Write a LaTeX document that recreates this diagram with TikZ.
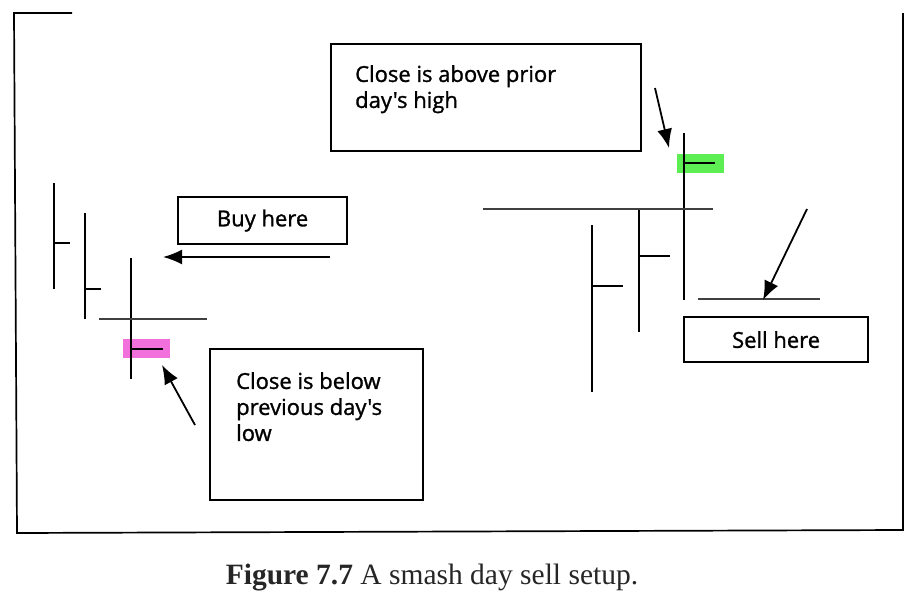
\documentclass[tikz,border=0pt]{standalone}
\usepackage{fontspec}
\newfontfamily\boxfont[FakeBold=1.2]{Open Sans}
\newfontfamily\capfont{Liberation Serif}
\usetikzlibrary{positioning, arrows.meta, calc}
\definecolor{closegreen}{RGB}{92,238,82}
\definecolor{closepink}{RGB}{242,112,220}

\begin{document}
\begin{tikzpicture}[x=1pt, y=-1pt,
	bar/.style={line width=2.3pt},
	level/.style={line width=1.4pt, black!75},
	callout/.style={draw, line width=2.2pt, anchor=north west, inner sep=0pt,
		font=\boxfont\fontsize{22}{26}\selectfont},
	note/.style={font=\boxfont\fontsize{22}{26}\selectfont, align=left, inner sep=0pt},
	pointer/.style={line width=1.8pt, -{Latex[length=19pt, width=15pt]}}]
	\useasboundingbox (0, 0) rectangle (921, 605);
	% frame
	\draw[line width=1.7pt] (72, 13) -- (14, 13) -- (17, 533) -- (903, 530) -- (903, 13);
	% highlighted closes
	\fill[closepink] (123, 339) rectangle (170, 358);
	\fill[closegreen] (677, 154) rectangle (724, 173);
	% left bars
	\draw[bar] (54, 183) -- (54, 289) (54, 243) -- (70, 243);
	\draw[bar] (85, 213) -- (85, 319) (85, 289) -- (101, 289);
	\draw[bar] (131, 258) -- (131, 379) (131, 349) -- (163, 349);
	\draw[level] (99, 319) -- (207, 319);
	% right bars
	\draw[bar] (592, 225) -- (592, 392) (592, 286) -- (623, 286);
	\draw[bar] (639, 210) -- (639, 332) (639, 256) -- (670, 256);
	\draw[bar] (684, 133) -- (684, 300) (684, 163) -- (715, 163);
	\draw[level] (483, 209) -- (713, 209);
	\draw[level] (698, 299) -- (820, 299);
	% boxes
	\node[callout, minimum width=310, minimum height=107] (highbox) at (330, 43) {};
	\node[note, below right=22pt and 25pt of highbox.north west, anchor=north west] (hightext)
		{Close is above prior\\day's high};
	\node[callout, minimum width=169, minimum height=47] (buy) at (177, 196) {Buy here};
	\node[callout, minimum width=213, minimum height=151] (lowbox) at (209, 348) {};
	\node[note, below right=24pt and 27pt of lowbox.north west, anchor=north west] (lowtext)
		{Close is below\\previous day's\\low};
	\node[callout, minimum width=184, minimum height=45] (sell) at (683, 316) {Sell here};
	% arrows
	\coordinate (buytail) at (330, 257);
	\coordinate (buytip) at (163, 257);
	\coordinate (lowtail) at (195, 425);
	\coordinate (lowtip) at (162, 365);
	\coordinate (hightail) at (655, 88);
	\coordinate (hightip) at (669, 148);
	\coordinate (selltail) at (807, 209);
	\coordinate (selltip) at (763, 300);
	\draw[pointer] (buytail) -- (buytip);
	\draw[pointer] (lowtail) -- (lowtip);
	\draw[pointer] (hightail) -- (hightip);
	\draw[pointer] (selltail) -- (selltip);
	% caption
	\node[font=\capfont\fontsize{29.5}{34}\selectfont, text=black!85] (caption) at (432, 578)
		{\textbf{Figure 7.7} A smash day sell setup.};
\end{tikzpicture}
\end{document}
